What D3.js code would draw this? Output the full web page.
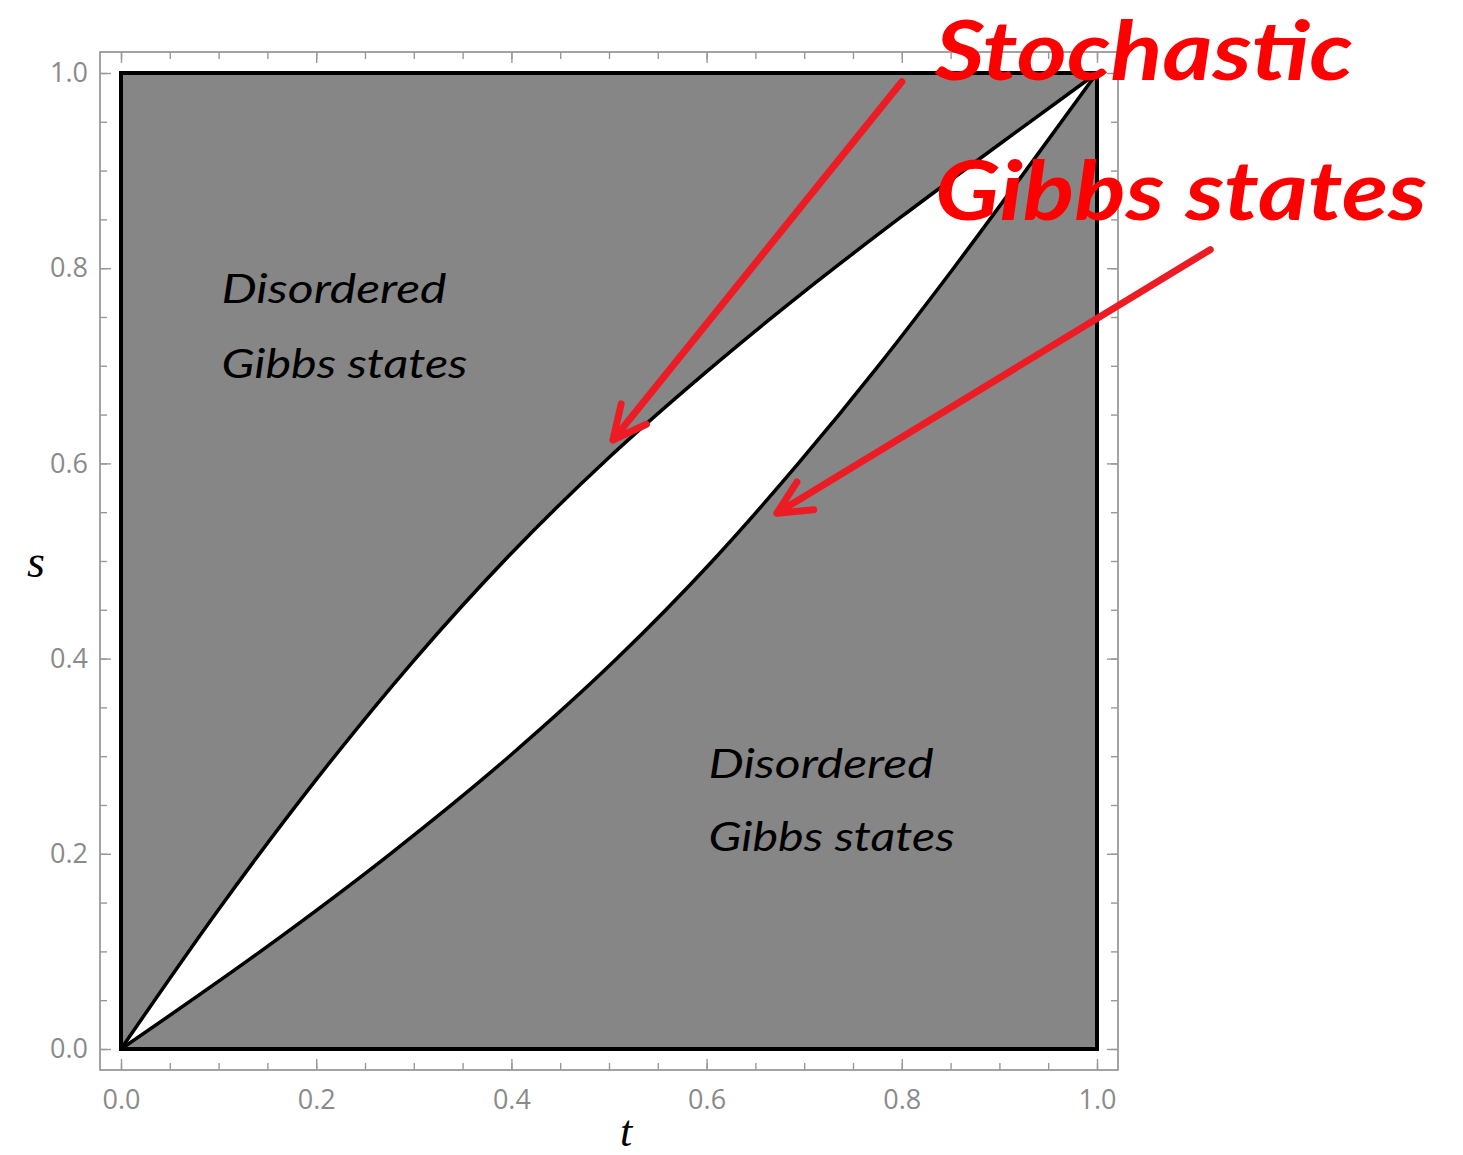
<html>
<head>
<title>Gibbs states</title>
<script src="https://d3js.org/d3.v7.min.js"></script>
<style>
body { margin: 0; background: #fff; }
.tick text { font-family: "Open Sans", "Noto Sans", sans-serif; font-size: 27px; fill: #8a8a8a; }
.tick line { stroke: #999; stroke-width: 1.4; }
</style>
</head>
<body>
<div id="canvas"></div>
<script>

// boundary curves of the stochastic region
var upperT = [0, 0.1, 0.2, 0.3, 0.4, 0.5, 0.6, 0.7, 0.8, 0.9, 1];
var upperS = [0, 0.143, 0.276, 0.398, 0.508, 0.606, 0.694, 0.776, 0.853, 0.927, 1];
var lowerT = [0, 0.143, 0.276, 0.398, 0.508, 0.606, 0.694, 0.776, 0.853, 0.927, 1];
var lowerS = [0, 0.1, 0.2, 0.3, 0.4, 0.5, 0.6, 0.7, 0.8, 0.9, 1];

var tickVals = [0, 0.2, 0.4, 0.6, 0.8, 1];
var tickLabels = ["0.0", "0.2", "0.4", "0.6", "0.8", "1.0"];

// annotation text (t, s of the baseline start)
var blackLabels = ["Disordered", "Gibbs states", "Disordered", "Gibbs states"];
var blackT = [0.103, 0.103, 0.602, 0.602];
var blackS = [0.764, 0.687, 0.278, 0.203];
var redLabels = ["Stochastic", "Gibbs states"];
var redT = [0.834, 0.834];
var redS = [0.993, 0.849];

// arrows: start and tip, in (t, s)
var arrowFromT = [0.800, 1.116];
var arrowFromS = [0.991, 0.819];
var arrowToT = [0.504, 0.672];
var arrowToS = [0.624, 0.549];

var W = 1463, H = 1155;
var pad = 21;

var svg = d3.select("#canvas")
            .append("svg")
            .attr("width", W)
            .attr("height", H);

var x = d3.scaleLinear().domain([0, 1]).range([121, 1097]);
var y = d3.scaleLinear().domain([0, 1]).range([1049, 73]);

var upper = upperT.map(function(t, i) { return [t, upperS[i]]; });
var lower = lowerT.map(function(t, i) { return [t, lowerS[i]]; });

var line = d3.line()
             .x(function(d) { return x(d[0]); })
             .y(function(d) { return y(d[1]); })
             .curve(d3.curveMonotoneX);

var below = d3.area()
              .x(function(d) { return x(d[0]); })
              .y0(y(0))
              .y1(function(d) { return y(d[1]); })
              .curve(d3.curveMonotoneX);

// gray square, white under the upper curve, gray again under the lower one
svg.append("rect")
   .attr("x", x(0)).attr("y", y(1))
   .attr("width", x(1) - x(0)).attr("height", y(0) - y(1))
   .attr("fill", "#868686");

svg.append("path").attr("d", below(upper)).attr("fill", "#ffffff");
svg.append("path").attr("d", below(lower)).attr("fill", "#868686");

[upper, lower].forEach(function(c) {
   svg.append("path")
      .attr("d", line(c))
      .attr("fill", "none")
      .attr("stroke", "#000")
      .attr("stroke-width", 3.5);
});

svg.append("rect")
   .attr("x", x(0)).attr("y", y(1))
   .attr("width", x(1) - x(0)).attr("height", y(0) - y(1))
   .attr("fill", "none")
   .attr("stroke", "#000")
   .attr("stroke-width", 4);

// frame with ticks
var fx0 = x(0) - pad, fx1 = x(1) + pad, fy0 = y(1) - pad, fy1 = y(0) + pad;

svg.append("rect")
   .attr("x", fx0).attr("y", fy0)
   .attr("width", fx1 - fx0).attr("height", fy1 - fy0)
   .attr("fill", "none")
   .attr("stroke", "#999")
   .attr("stroke-width", 1.8);

var minor = x.ticks(20);

function drawAxis(axisFn, scale, tx, ty, withLabels) {
   var gMinor = svg.append("g")
      .attr("transform", "translate(" + tx + "," + ty + ")")
      .call(axisFn(scale).tickValues(minor).tickSizeInner(-7).tickSizeOuter(0).tickFormat(""));
   gMinor.select(".domain").remove();
   var ax = axisFn(scale).tickValues(tickVals).tickSizeInner(-11).tickSizeOuter(0);
   if (withLabels) {
      ax.tickFormat(function(d, i) { return tickLabels[i]; });
   } else {
      ax.tickFormat("");
   }
   var g = svg.append("g")
      .attr("transform", "translate(" + tx + "," + ty + ")")
      .call(ax);
   g.select(".domain").remove();
   return g;
}

drawAxis(d3.axisBottom, x, 0, fy1, true).call(function(g) { g.selectAll(".tick text").attr("y", 20); });
drawAxis(d3.axisTop, x, 0, fy0, false);
drawAxis(d3.axisLeft, y, fx0, 0, true).call(function(g) { g.selectAll(".tick text").attr("x", -12); });
drawAxis(d3.axisRight, y, fx1, 0, false);

// axis titles
svg.append("text")
   .attr("x", 36).attr("y", 577)
   .attr("text-anchor", "middle")
   .style("font-family", "'Liberation Serif', 'DejaVu Serif', serif")
   .style("font-style", "italic")
   .style("font-size", "46px")
   .text("s");

svg.append("text")
   .attr("x", 626).attr("y", 1146)
   .attr("text-anchor", "middle")
   .style("font-family", "'Liberation Serif', 'DejaVu Serif', serif")
   .style("font-style", "italic")
   .style("font-size", "44px")
   .text("t");

// region labels
var blackWidths = [225, 246, 225, 246];
svg.selectAll(".blab")
   .data(blackLabels)
   .enter()
   .append("text")
   .attr("class", "blab")
   .attr("x", function(d, i) { return x(blackT[i]); })
   .attr("y", function(d, i) { return y(blackS[i]); })
   .attr("textLength", function(d, i) { return blackWidths[i]; })
   .attr("lengthAdjust", "spacingAndGlyphs")
   .style("font-family", "'Segoe Print', 'Comic Sans MS', Lato, sans-serif")
   .style("font-style", "italic")
   .style("font-size", "40px")
   .attr("fill", "#000")
   .text(function(d) { return d; });

// red arrows
svg.selectAll(".arrow")
   .data(arrowFromT)
   .enter()
   .append("path")
   .attr("class", "arrow")
   .attr("d", function(d, i) {
      var sx = x(arrowFromT[i]), sy = y(arrowFromS[i]);
      var tx = x(arrowToT[i]), ty = y(arrowToS[i]);
      var a = Math.atan2(sy - ty, sx - tx), spread = 26 * Math.PI / 180, L = 37;
      var a1 = [tx + L * Math.cos(a - spread), ty + L * Math.sin(a - spread)];
      var a2 = [tx + L * Math.cos(a + spread), ty + L * Math.sin(a + spread)];
      return "M" + sx + "," + sy + "L" + tx + "," + ty +
             "M" + a1 + "L" + tx + "," + ty + "L" + a2;
   })
   .attr("fill", "none")
   .attr("stroke", "#ed1c24")
   .attr("stroke-width", 7)
   .attr("stroke-linecap", "round")
   .attr("stroke-linejoin", "round");

var redWidths = [418, 492];
svg.selectAll(".rlab")
   .data(redLabels)
   .enter()
   .append("text")
   .attr("class", "rlab")
   .attr("x", function(d, i) { return x(redT[i]); })
   .attr("y", function(d, i) { return y(redS[i]); })
   .attr("textLength", function(d, i) { return redWidths[i]; })
   .attr("lengthAdjust", "spacingAndGlyphs")
   .style("font-family", "'Segoe Print', 'Comic Sans MS', Lato, sans-serif")
   .style("font-style", "italic")
   .style("font-weight", "bold")
   .style("font-size", "82px")
   .attr("fill", "#ff0000")
   .text(function(d) { return d; });

</script>
</body>
</html>
